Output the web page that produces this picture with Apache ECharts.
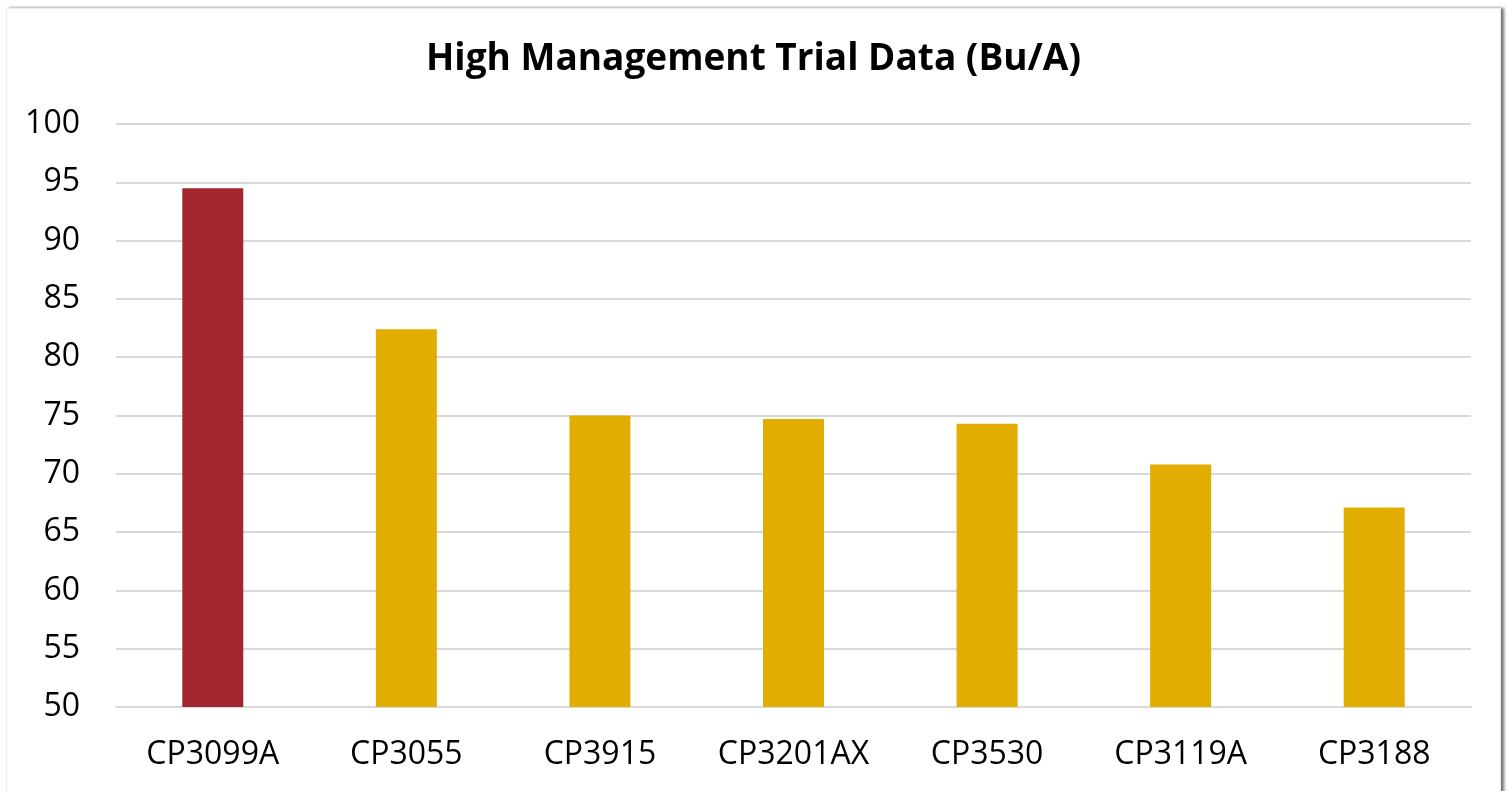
<!DOCTYPE html>
<html>
<head>
<meta charset="utf-8">
<script src="https://cdn.jsdelivr.net/npm/echarts@6/dist/echarts.min.js"></script>
<style>
html,body{margin:0;padding:0;background:#fff;width:1507px;height:791px;overflow:hidden;}
#frame{position:absolute;left:6px;top:8px;width:1493px;height:800px;background:#fff;border:1px solid #ececec;box-shadow:3px 0 3px rgba(0,0,0,0.55);}
#chart{position:absolute;left:0;top:0;width:1507px;height:791px;}
</style>
</head>
<body>
<div id="frame"></div>
<div id="chart"></div>
<script>
const title = 'High Management Trial Data (Bu/A)';
const categories = ['CP3099A','CP3055','CP3915','CP3201AX','CP3530','CP3119A','CP3188'];
const values = [94.5, 82.4, 75.0, 74.7, 74.3, 70.8, 67.1];
const barColors = ['#A32530','#E1AD01','#E1AD01','#E1AD01','#E1AD01','#E1AD01','#E1AD01'];
const yMin = 50, yMax = 100, yStep = 5;

const chart = echarts.init(document.getElementById('chart'), null, {renderer:'canvas'});
chart.setOption({
  backgroundColor: 'transparent',
  animation: false,
  title: {
    text: title, left: 'center', top: 36,
    textStyle: {fontFamily: 'Open Sans', fontWeight: 'bold', fontSize: 37, color: '#000'}
  },
  grid: {left: 116, right: 36, top: 124, bottom: 84, containLabel: false},
  xAxis: {
    type: 'category', data: categories,
    axisLine: {show: true, lineStyle: {color: '#d9d9d9', width: 2}},
    axisTick: {show: false},
    axisLabel: {interval: 0, hideOverlap: false, color: '#000', fontSize: 32, fontFamily: 'Open Sans', margin: 32}
  },
  yAxis: {
    type: 'value', min: yMin, max: yMax, interval: yStep,
    axisLine: {show: false}, axisTick: {show: false},
    splitLine: {lineStyle: {color: '#d9d9d9', width: 2}},
    axisLabel: {color: '#000', fontSize: 32, fontFamily: 'Open Sans', margin: 36}
  },
  series: [{
    type: 'bar', barWidth: '31.5%',
    data: values.map((v, i) => ({value: v, itemStyle: {color: barColors[i]}}))
  }]
});
</script>
</body>
</html>
